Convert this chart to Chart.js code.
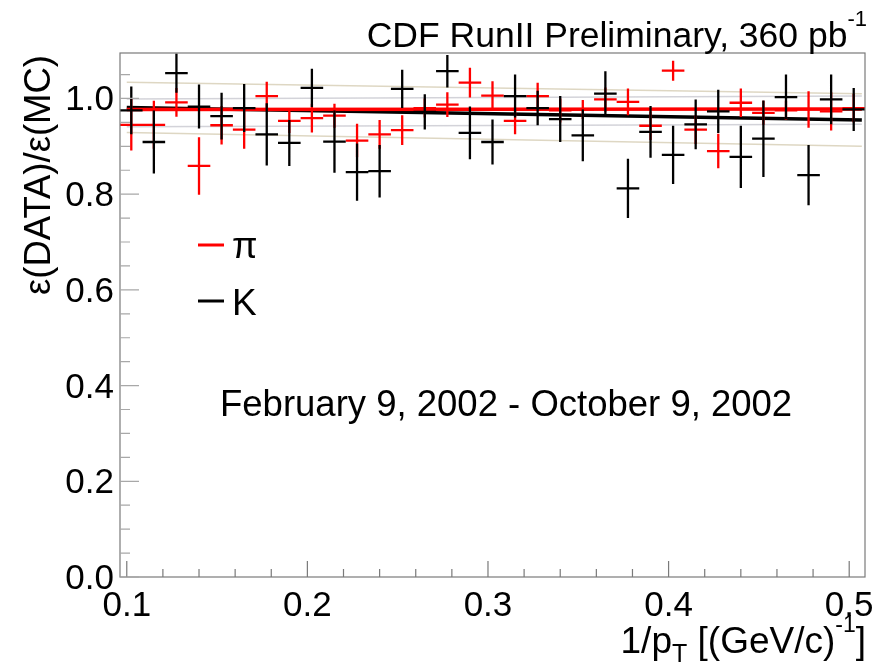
<!DOCTYPE html>
<html>
<head>
<meta charset="utf-8">
<script src="https://cdn.jsdelivr.net/npm/chart.js@4.4.1/dist/chart.umd.min.js"></script>
<style>
  html, body { margin: 0; padding: 0; background: #fff; }
  #wrap { width: 881px; height: 668px; }
</style>
</head>
<body>
<div id="wrap"><canvas id="ratio" width="881" height="668"></canvas></div>
<script>
// 1/pT bin centres and half width
const binCenters = [
  0.1025, 0.115, 0.1275, 0.14, 0.1525, 0.165, 0.1775, 0.19, 0.2025, 0.215, 0.2275,
  0.24, 0.2525, 0.265, 0.2775, 0.29, 0.3025, 0.315, 0.3275, 0.34, 0.3525, 0.365,
  0.3775, 0.39, 0.4025, 0.415, 0.4275, 0.44, 0.4525, 0.465, 0.4775, 0.49, 0.5025,
]
const binHalfWidth = 0.00625

// eff(DATA)/eff(MC) for kaons
const kaonRatio = [
  0.975, 0.909, 1.053, 0.983, 0.963, 0.980, 0.925, 0.907, 1.022, 0.910, 0.846,
  0.848, 1.020, 0.972, 1.057, 0.928, 0.909, 1.005, 0.980, 0.957, 0.923, 1.010,
  0.812, 0.930, 0.882, 0.946, 0.973, 0.878, 0.916, 1.003, 0.840, 0.998, 0.977,
]
const kaonErr = [
  0.050, 0.066, 0.041, 0.046, 0.049, 0.050, 0.065, 0.048, 0.040, 0.065, 0.060,
  0.055, 0.040, 0.037, 0.034, 0.055, 0.047, 0.045, 0.036, 0.048, 0.054, 0.047,
  0.062, 0.054, 0.061, 0.052, 0.045, 0.065, 0.080, 0.047, 0.063, 0.052, 0.045,
]

// eff(DATA)/eff(MC) for pions
const pionRatio = [
  0.945, 0.945, 0.992, 0.859, 0.944, 0.935, 1.005, 0.953, 0.959, 0.964, 0.912,
  0.925, 0.934, 0.980, 0.987, 1.033, 1.006, 0.953, 1.005, 0.975, 0.977, 0.998,
  0.993, 0.943, 1.058, 0.935, 0.890, 0.991, 0.970, 0.975, 0.977, 0.973, 0.980,
]
const pionErr = [
  0.054, 0.050, 0.030, 0.060, 0.040, 0.040, 0.030, 0.025, 0.030, 0.025, 0.035,
  0.030, 0.031, 0.020, 0.026, 0.031, 0.030, 0.028, 0.028, 0.025, 0.020, 0.025,
  0.028, 0.030, 0.021, 0.030, 0.036, 0.030, 0.025, 0.020, 0.038, 0.040, 0.030,
]

// linear fits (value at each end of fitRange) and their error bands
const fitRange = [0.1, 0.507]
const kaonFit = [0.981, 0.955]
const pionFit = [0.977, 0.978]
const kaonBandHi = [1.034, 1.010]
const kaonBandLo = [0.929, 0.900]
const pionBandHi = [0.999, 1.005]
const pionBandLo = [0.941, 0.946]

// axes
const xRange = [0.09625, 0.50875]
const yRange = [0, 1.095]
const xMajorTicks = [0.1, 0.2, 0.3, 0.4, 0.5]
const xTickLabels = ["0.1", "0.2", "0.3", "0.4", "0.5"]
const xMinorTicks = [
  0.12, 0.14, 0.16, 0.18, 0.22, 0.24, 0.26, 0.28, 0.32, 0.34, 0.36, 0.38,
  0.42, 0.44, 0.46, 0.48,
]
const yMajorTicks = [0, 0.2, 0.4, 0.6, 0.8, 1.0]
const yTickLabels = ["0.0", "0.2", "0.4", "0.6", "0.8", "1.0"]
const yMinorTicks = [0.05, 0.1, 0.15, 0.25, 0.3, 0.35, 0.45, 0.5, 0.55, 0.65, 0.7, 0.75, 0.85, 0.9, 0.95, 1.05]

const FONT = '"Liberation Sans", Arial, Helvetica, sans-serif'
const RED = "#ff0000"
const BLACK = "#000000"

const segment = (range, vals) => [
  { x: range[0], y: vals[0] },
  { x: range[1], y: vals[1] },
]

const lineSet = (data, color, width) => ({
  type: "line",
  data,
  borderColor: color,
  borderWidth: width,
  pointRadius: 0,
  fill: false,
  tension: 0,
})

// crosses: horizontal bar over the bin, vertical bar over the error
const errorBars = {
  id: "errorBars",
  afterDatasetsDraw(chart) {
    const { ctx, scales: { x, y } } = chart
    const drawSeries = (vals, errs, color) => {
      ctx.save()
      ctx.strokeStyle = color
      ctx.lineWidth = 2.3
      ctx.beginPath()
      vals.forEach((v, i) => {
        const c = binCenters[i]
        const px = x.getPixelForValue(c)
        const py = y.getPixelForValue(v)
        ctx.moveTo(x.getPixelForValue(c - binHalfWidth), py)
        ctx.lineTo(x.getPixelForValue(c + binHalfWidth), py)
        ctx.moveTo(px, y.getPixelForValue(v + errs[i]))
        ctx.lineTo(px, y.getPixelForValue(v - errs[i]))
      })
      ctx.stroke()
      ctx.restore()
    }
    drawSeries(pionRatio, pionErr, RED)
    drawSeries(kaonRatio, kaonErr, BLACK)
  },
}

// draws a run of text pieces, some raised or lowered, ending at rightX
function richText(ctx, parts, rightX, baseline) {
  let total = 0
  parts.forEach((p) => {
    ctx.font = `${p.size}px ${FONT}`
    p.w = ctx.measureText(p.t).width
    total += p.w
  })
  let cx = rightX - total
  parts.forEach((p) => {
    ctx.font = `${p.size}px ${FONT}`
    ctx.fillText(p.t, cx, baseline + (p.dy || 0))
    cx += p.w
  })
}

// frame, inward ticks, labels, legend and captions
const decorations = {
  id: "decorations",
  afterDraw(chart) {
    const { ctx, chartArea: a, scales: { x, y } } = chart
    ctx.save()

    ctx.strokeStyle = "#7a7a7a"
    ctx.lineWidth = 1.2
    ctx.strokeRect(a.left, a.top, a.right - a.left, a.bottom - a.top)

    ctx.beginPath()
    xMajorTicks.forEach((t) => {
      const px = x.getPixelForValue(t)
      ctx.moveTo(px, a.bottom)
      ctx.lineTo(px, a.bottom - 16)
    })
    xMinorTicks.forEach((t) => {
      const px = x.getPixelForValue(t)
      ctx.moveTo(px, a.bottom)
      ctx.lineTo(px, a.bottom - 8)
    })
    ctx.stroke()

    ctx.strokeStyle = "#a8a8a8"
    ctx.beginPath()
    yMajorTicks.forEach((t) => {
      const py = y.getPixelForValue(t)
      ctx.moveTo(a.left, py)
      ctx.lineTo(a.left + 19, py)
    })
    yMinorTicks.forEach((t) => {
      const py = y.getPixelForValue(t)
      ctx.moveTo(a.left, py)
      ctx.lineTo(a.left + 10, py)
    })
    ctx.stroke()

    ctx.fillStyle = "#000"
    ctx.font = `35px ${FONT}`
    ctx.textAlign = "center"
    ctx.textBaseline = "alphabetic"
    xMajorTicks.forEach((t, i) => {
      ctx.fillText(xTickLabels[i], x.getPixelForValue(t), 616)
    })
    ctx.textAlign = "right"
    yMajorTicks.forEach((t, i) => {
      ctx.fillText(yTickLabels[i], 114, y.getPixelForValue(t) + 12)
    })

    // axis titles
    ctx.textAlign = "left"
    richText(ctx, [
      { t: "1/p", size: 37 },
      { t: "T", size: 25, dy: 9 },
      { t: " [(GeV/c)", size: 37 },
      { t: "-1", size: 23, dy: -21 },
      { t: "]", size: 37 },
    ], 866, 653)

    ctx.save()
    ctx.translate(50, 55)
    ctx.rotate(-Math.PI / 2)
    ctx.textAlign = "right"
    ctx.font = `36.5px ${FONT}`
    ctx.fillText("ε(DATA)/ε(MC)", 0, 0)
    ctx.restore()

    ctx.textAlign = "left"
    richText(ctx, [
      { t: "CDF RunII Preliminary, 360 pb", size: 35.5 },
      { t: "-1", size: 22, dy: -21 },
    ], 867, 47)

    ctx.font = `36.5px ${FONT}`
    ctx.fillText("February 9, 2002 - October 9, 2002", 220, 416)

    // legend
    ctx.lineWidth = 3
    ctx.strokeStyle = RED
    ctx.beginPath()
    ctx.moveTo(198, 245)
    ctx.lineTo(224, 245)
    ctx.stroke()
    ctx.strokeStyle = BLACK
    ctx.beginPath()
    ctx.moveTo(198, 301)
    ctx.lineTo(224, 301)
    ctx.stroke()
    ctx.font = `37px ${FONT}`
    ctx.fillText("π", 232, 258)
    ctx.fillText("K", 232, 315)

    ctx.restore()
  },
}

new Chart(document.getElementById("ratio"), {
  type: "scatter",
  data: {
    datasets: [
      lineSet(segment(fitRange, kaonBandHi), "rgba(214,205,180,0.8)", 1.6),
      lineSet(segment(fitRange, kaonBandLo), "rgba(214,205,180,0.8)", 1.6),
      lineSet(segment(fitRange, pionBandHi), "rgba(200,200,208,0.8)", 1.4),
      lineSet(segment(fitRange, pionBandLo), "rgba(200,200,208,0.8)", 1.4),
      lineSet(segment(fitRange, pionFit), RED, 3.5),
      lineSet(segment(fitRange, kaonFit), BLACK, 3.5),
    ],
  },
  options: {
    responsive: false,
    animation: false,
    layout: { padding: { left: 120, right: 16, top: 53, bottom: 91 } },
    plugins: { legend: { display: false }, tooltip: { enabled: false } },
    scales: {
      x: { type: "linear", min: xRange[0], max: xRange[1], display: false },
      y: { type: "linear", min: yRange[0], max: yRange[1], display: false },
    },
  },
  plugins: [errorBars, decorations],
})
</script>
</body>
</html>
